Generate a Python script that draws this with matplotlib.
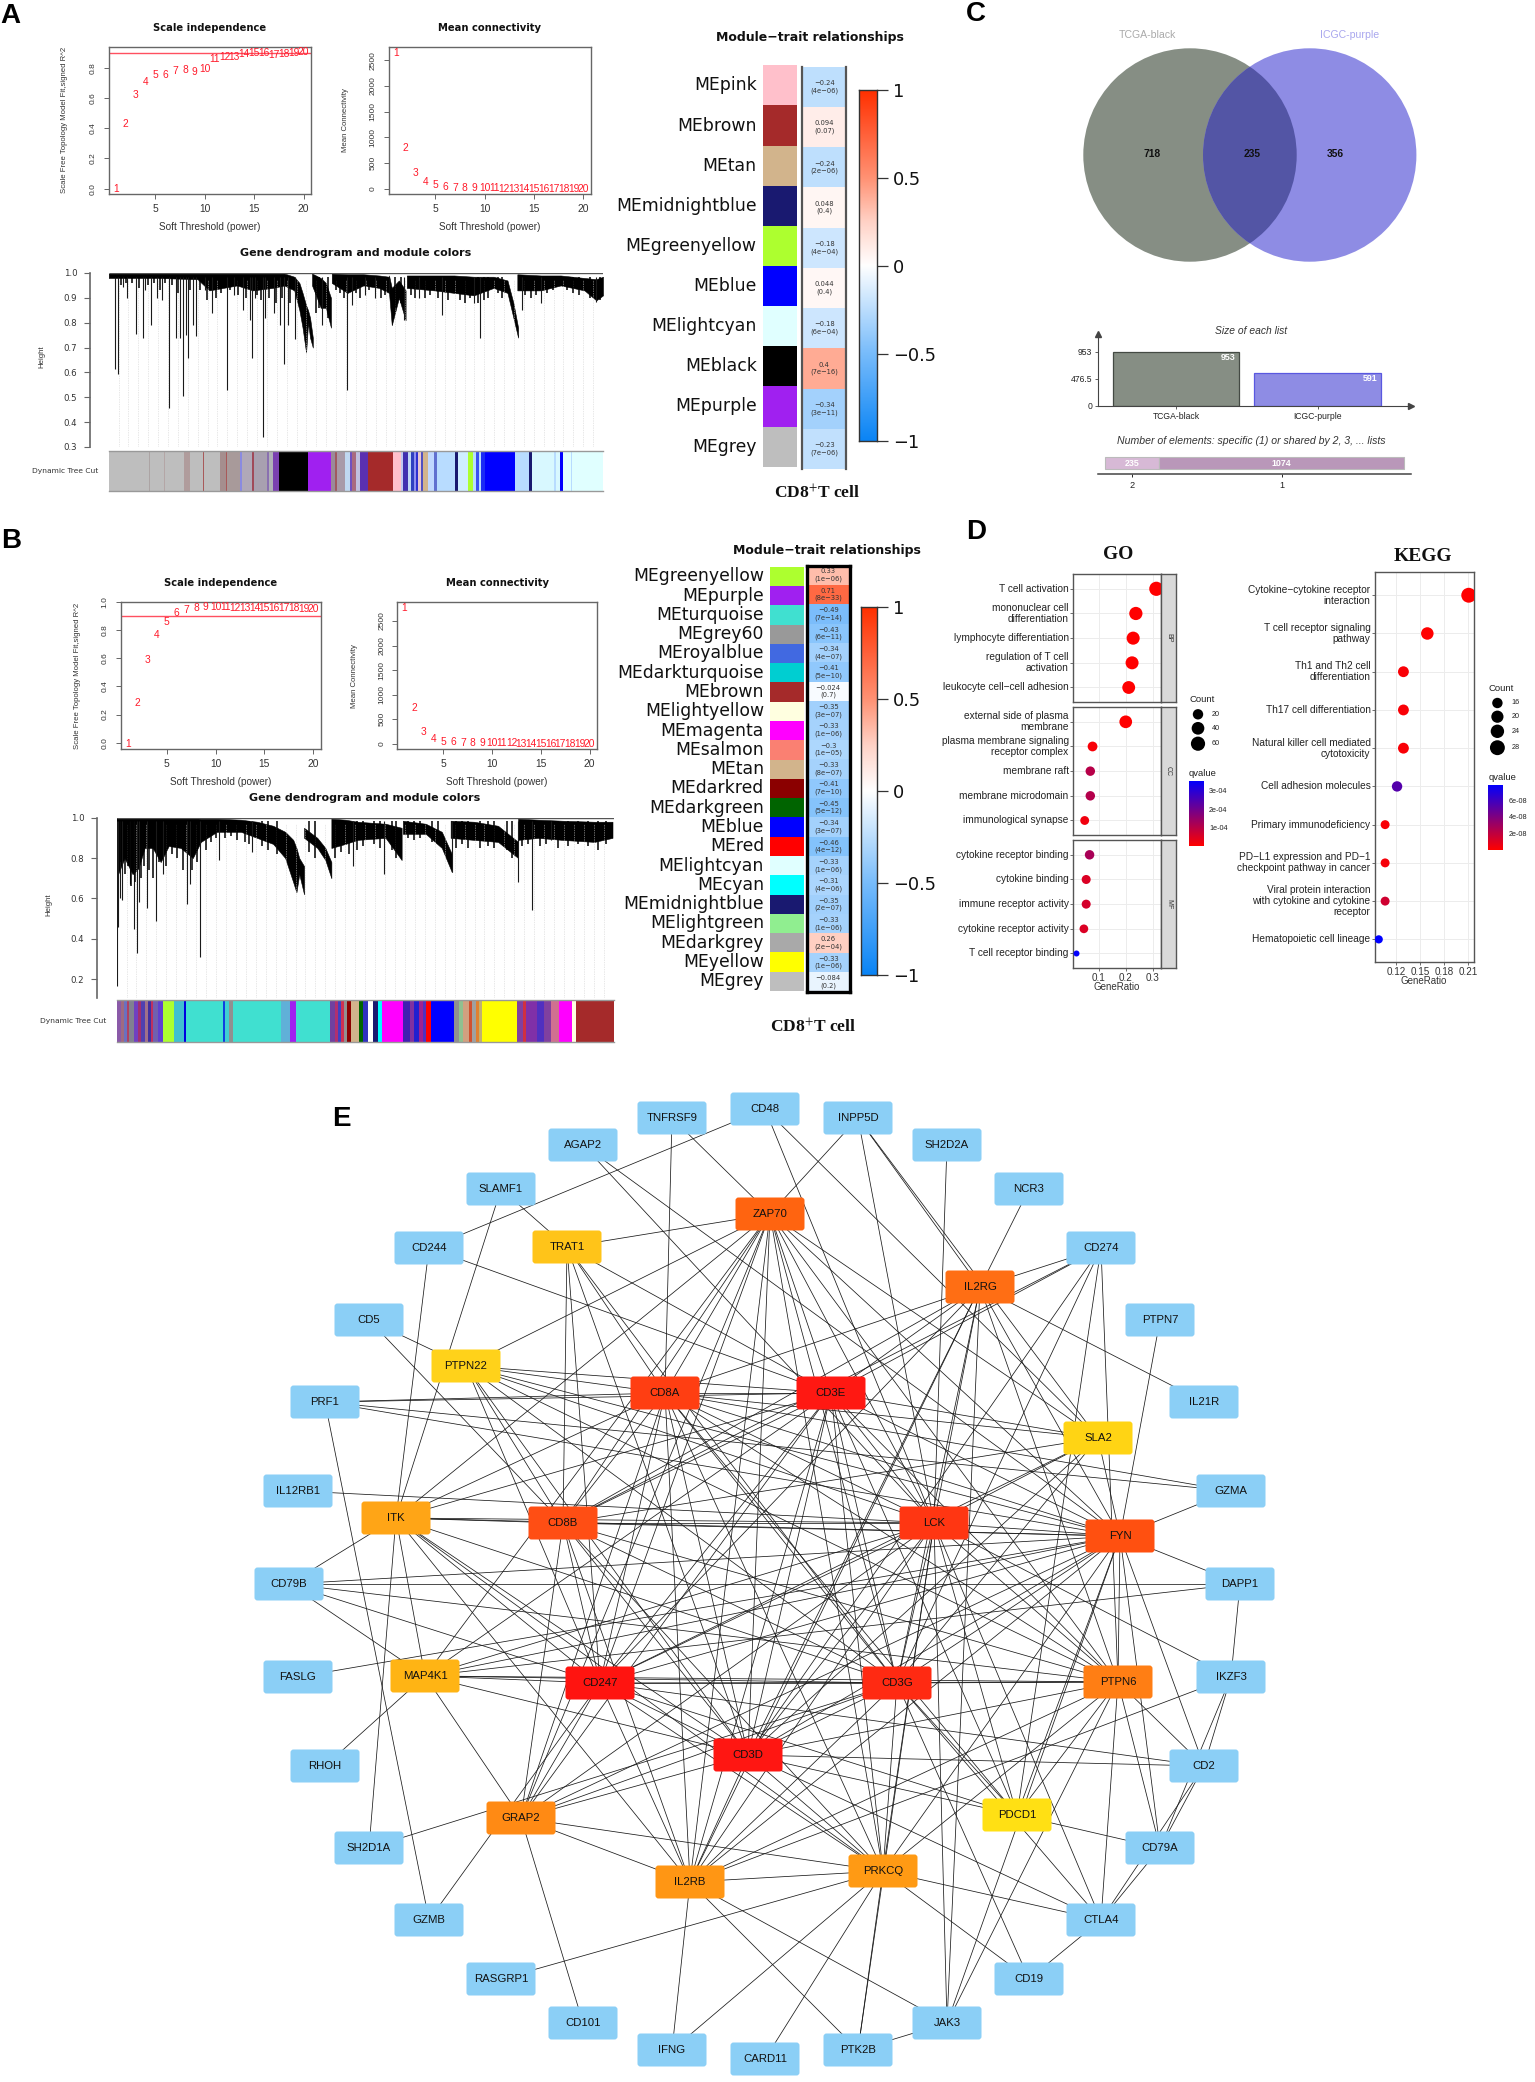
"""
    WGCNA modules, venn diagram, enrichment dot plots and PPI network
"""
import numpy as np
from matplotlib import pyplot as plt
from matplotlib.collections import LineCollection
from matplotlib.colors import LinearSegmentedColormap
from matplotlib.patches import Circle, FancyBboxPatch

WIDTH = 1535
HEIGHT = 2082
SANS = "Liberation Sans"
SERIF = "Liberation Serif"
WIDE = "DejaVu Sans"
AXIS_GREY = "#666666"

# ---- panel A / B soft threshold
POWERS = list(range(1, 21))
A_FIT = [0.0, 0.428, 0.622, 0.706, 0.755, 0.755, 0.777, 0.786, 0.773, 0.79,
         0.857, 0.87, 0.874, 0.892, 0.896, 0.896, 0.885, 0.892, 0.896, 0.903]
A_CONN = [2650, 800, 300, 136, 71, 32, 20, 12, 8, 6, 5, 4, 3, 3, 2, 2, 1, 1, 1, 1]
B_FIT = [-0.007, 0.283, 0.587, 0.763, 0.86, 0.922, 0.945, 0.957, 0.962, 0.962,
         0.962, 0.96, 0.96, 0.96, 0.957, 0.957, 0.957, 0.955, 0.95, 0.95]
B_CONN = [2765, 720, 245, 95, 41, 27, 20, 14, 10, 8, 6, 5, 4, 3, 3, 2, 2, 2, 1, 1]

# ---- dendrograms: clusters as (leaf, top, bottom) outlines
A_CLUSTERS = [
    ([275, 400, 500, 530, 600, 640, 690, 720, 745, 758, 766, 775, 780, 785, 792],
     [.998, .998, .998, .998, .998, .998, .998, .998, .985, .96, .92, .87, .85, .82, .74],
     [.98, .98, .975, .93, .95, .93, .94, .95, .93, .85, .78, .68, .80, .74, .70]),
    ([790, 800, 812, 825, 838], [.998, .99, .98, .96, .90], [.95, .91, .86, .86, .78]),
    ([840, 880, 920, 960, 985], [.998, .995, .995, .99, .985], [.96, .92, .95, .94, .92]),
    ([985, 992, 1010, 1027], [.99, .94, .97, .93], [.92, .79, .90, .81]),
    ([1030, 1100, 1150, 1200, 1250, 1285, 1300, 1312],
     [.99, .99, .99, .985, .985, .97, .88, .78],
     [.94, .93, .92, .91, .94, .92, .82, .74]),
    ([1310, 1370, 1420, 1480, 1510, 1527],
     [.995, .99, .99, .98, .975, .985],
     [.93, .93, .95, .93, .89, .91]),
]
A_SPIKES = [(290, .615), (299, .595), (311, .945), (322, .90), (343, .755), (361, .74),
            (368, .93), (383, .79), (398, .90), (411, .89), (427, .455), (445, .74),
            (456, .74), (462, .505), (470, .75), (476, .66), (488, .79), (495, .745),
            (518, .93), (537, .84), (574, .53), (592, .91), (615, .85), (632, .81),
            (638, .66), (645, .90), (666, .34), (672, .82), (693, .84), (710, .79),
            (720, .635), (728, .79), (746, .735), (815, .79), (878, .53), (890, .87),
            (923, .91), (950, .90), (1024, .81), (1060, .90), (1120, .83), (1200, .88),
            (1215, .74), (1321, .85), (1370, .88), (1510, .885)]
A_JAGS = [(305, .95), (318, .96), (333, .96), (352, .94), (375, .95), (390, .96), (405, .93),
          (418, .96), (436, .95), (450, .92), (482, .93), (505, .93), (525, .89), (548, .90),
          (560, .92), (583, .93), (603, .91), (622, .90), (650, .91), (660, .89), (680, .90),
          (700, .88), (715, .90), (735, .88), (800, .84), (808, .86), (830, .82), (850, .93),
          (862, .92), (872, .90), (902, .92), (912, .90), (935, .93), (965, .90), (975, .91),
          (1000, .86), (1015, .88), (1040, .91), (1050, .90), (1075, .90), (1090, .91),
          (1110, .90), (1135, .89), (1165, .89), (1178, .88), (1190, .90), (1210, .88),
          (1225, .89), (1235, .90), (1262, .92), (1272, .90), (1330, .91), (1345, .90),
          (1358, .91), (1385, .92), (1400, .93), (1435, .93), (1450, .92), (1465, .91),
          (1495, .90), (1520, .89)]
B_CLUSTERS = [
    ([290, 310, 330, 345, 360, 380, 400, 420, 450, 480, 500, 540, 600, 640, 680, 710, 730, 738, 745, 757],
     [.998, .998, .998, .998, .998, .998, .998, .998, .998, .998, .995, .995, .99, .98, .96, .93, .89, .85, .80, .76],
     [.70, .80, .72, .75, .85, .85, .78, .86, .85, .80, .88, .93, .93, .90, .87, .80, .68, .63, .72, .62]),
    ([757, 790, 810, 825], [.95, .90, .85, .78], [.90, .85, .79, .70]),
    ([825, 860, 890, 960, 1000], [.995, .99, .98, .97, .95], [.85, .87, .89, .90, .79]),
    ([1003, 1060, 1100, 1125], [.985, .97, .93, .82], [.92, .92, .85, .73]),
    ([1122, 1180, 1240, 1290], [.985, .98, .96, .88], [.90, .89, .88, .80]),
    ([1290, 1340, 1400, 1480, 1525], [.995, .99, .985, .98, .98], [.89, .90, .89, .88, .90]),
]
B_SPIKES = [(291, .165), (294, .46), (298, .60), (303, .59), (323, .67), (333, .45),
            (340, .33), (347, .58), (365, .55), (389, .49), (407, .72), (465, .57),
            (472, .67), (499, .31), (545, .79), (627, .83), (880, .76), (955, .72),
            (1125, .73), (1290, .68), (1325, .54), (1373, .89)]
B_JAGS = [(300, .78), (312, .72), (318, .76), (327, .66), (337, .68), (352, .70), (358, .76),
          (372, .74), (380, .70), (395, .78), (414, .76), (428, .82), (440, .80), (455, .74),
          (478, .74), (490, .78), (512, .84), (525, .88), (538, .90), (560, .90), (575, .91),
          (590, .89), (610, .88), (620, .87), (652, .86), (668, .84), (690, .82), (770, .83),
          (785, .80), (835, .80), (848, .83), (870, .82), (890, .84), (905, .86), (930, .87),
          (945, .85), (975, .84), (985, .80), (1015, .90), (1030, .89), (1045, .90), (1075, .88),
          (1090, .87), (1135, .85), (1150, .87), (1165, .85), (1195, .85), (1215, .86), (1230, .85),
          (1262, .84), (1275, .80), (1300, .86), (1315, .87), (1345, .86), (1360, .87), (1390, .85),
          (1415, .86), (1440, .87), (1465, .86), (1490, .84), (1510, .87)]

# ---- dynamic tree cut bands: (colour, leaves)
A_BAND = [("#bebebe", 95), ("#aca4a4", 3), ("#bebebe", 33), ("#b4a6a6", 3), ("#bebebe", 45),
          ("#b09c9c", 15), ("#bebebe", 30), ("#a85a5a", 3), ("#bebebe", 37), ("#a58e8e", 15),
          ("#a85a5a", 3), ("#a89a9a", 30), ("#8a8ae0", 5), ("#b0a8b8", 25), ("#a04a5a", 4),
          ("#a8a0b0", 30), ("#8a70b0", 6), ("#b0b0b8", 10), ("#7a40b0", 14), ("#000000", 68),
          ("#a020f0", 54), ("#9a8a9a", 10), ("#a05a60", 5), ("#a89aa8", 20), ("#c0d8f0", 10),
          ("#7050c0", 6), ("#a86a80", 10), ("#c0c0e0", 10), ("#5a30b0", 18), ("#a52a2a", 60),
          ("#ffc0cb", 19), ("#c0c8f0", 5), ("#4030b0", 12), ("#c0d8f5", 6), ("#3040c0", 8),
          ("#9090f0", 4), ("#3030d0", 6), ("#e8c8d0", 5), ("#5050c0", 6), ("#d2b48c", 11),
          ("#c0d8ff", 14), ("#6070d0", 8), ("#b8dcff", 42), ("#191970", 9), ("#cfeeff", 23),
          ("#adff2f", 12), ("#b8dcff", 6), ("#3a50f0", 8), ("#b8dcff", 4), ("#1a2af5", 11),
          ("#0000ff", 70), ("#b8dcff", 34), ("#191970", 8), ("#d8f8ff", 52), ("#b8dcff", 4),
          ("#d8f8ff", 10), ("#0000ff", 8), ("#e0ffff", 17), ("#b8dcff", 4), ("#e0ffff", 73)]
B_BAND = [("#8a5aa8", 10), ("#a06a80", 8), ("#6a70c0", 8), ("#b04060", 6), ("#808090", 12),
          ("#7040c0", 10), ("#a03070", 6), ("#5040b0", 10), ("#a0708a", 8), ("#4030a0", 8),
          ("#c03060", 6), ("#7060b0", 12), ("#6040d0", 11), ("#adff2f", 28), ("#40c0d0", 25),
          ("#0000e0", 5), ("#40e0d0", 92), ("#1040e0", 5), ("#40d0d0", 10), ("#909090", 10),
          ("#40e0d0", 120), ("#60b0d8", 22), ("#a020f0", 16), ("#40e0d0", 84), ("#7040a0", 12),
          ("#b03070", 8), ("#4040c0", 8), ("#d03050", 6), ("#909090", 7), ("#8b0000", 12),
          ("#d2b48c", 20), ("#006400", 8), ("#3030c0", 12), ("#ffffff", 13), ("#191970", 12),
          ("#00ffff", 10), ("#ff00ff", 54), ("#4020b0", 16), ("#8030a0", 10), ("#2020d0", 12),
          ("#a02090", 10), ("#5030c0", 8), ("#ff0000", 14), ("#0000ff", 56), ("#909090", 14),
          ("#90c090", 10), ("#d2a080", 14), ("#d05030", 8), ("#a0a0a0", 8), ("#e08030", 8),
          ("#c0b070", 8), ("#ffff00", 88), ("#8040a0", 14), ("#d03040", 8), ("#8030a8", 26),
          ("#5030c0", 18), ("#8040a0", 18), ("#d07090", 20), ("#ff00ff", 33), ("#ffffe0", 8),
          ("#a52a2a", 95)]

# ---- module trait heatmaps
A_MODULES = ["MEpink", "MEbrown", "MEtan", "MEmidnightblue", "MEgreenyellow", "MEblue",
             "MElightcyan", "MEblack", "MEpurple", "MEgrey"]
A_COLORS = ["#ffc0cb", "#a52a2a", "#d2b48c", "#191970", "#adff2f", "#0000ff", "#e0ffff",
            "#000000", "#a020f0", "#bebebe"]
A_CORR = [-0.24, 0.094, -0.24, 0.048, -0.18, 0.044, -0.18, 0.4, -0.34, -0.23]
A_P = ["4e\u221206", "0.07", "2e\u221206", "0.4", "4e\u221204", "0.4", "6e\u221204",
       "7e\u221216", "3e\u221211", "7e\u221206"]
B_MODULES = ["MEgreenyellow", "MEpurple", "MEturquoise", "MEgrey60", "MEroyalblue",
             "MEdarkturquoise", "MEbrown", "MElightyellow", "MEmagenta", "MEsalmon", "MEtan",
             "MEdarkred", "MEdarkgreen", "MEblue", "MEred", "MElightcyan", "MEcyan",
             "MEmidnightblue", "MElightgreen", "MEdarkgrey", "MEyellow", "MEgrey"]
B_COLORS = ["#adff2f", "#a020f0", "#40e0d0", "#999999", "#4169e1", "#00ced1", "#a52a2a",
            "#ffffe0", "#ff00ff", "#fa8072", "#d2b48c", "#8b0000", "#006400", "#0000ff",
            "#ff0000", "#e0ffff", "#00ffff", "#191970", "#90ee90", "#a9a9a9", "#ffff00",
            "#bebebe"]
B_CORR = [0.33, 0.71, -0.49, -0.43, -0.34, -0.41, -0.024, -0.35, -0.33, -0.3, -0.33, -0.41,
          -0.45, -0.34, -0.46, -0.33, -0.31, -0.35, -0.33, 0.26, -0.33, -0.084]
B_P = ["1e\u221206", "8e\u221233", "7e\u221214", "6e\u221211", "4e\u221207", "5e\u221210",
       "0.7", "3e\u221207", "1e\u221206", "1e\u221205", "8e\u221207", "7e\u221210",
       "5e\u221212", "3e\u221207", "4e\u221212", "1e\u221206", "4e\u221206", "2e\u221207",
       "1e\u221206", "2e\u221204", "1e\u221206", "0.2"]

# ---- panel C
VENN_NAMES = ["TCGA-black", "ICGC-purple"]
VENN_COUNTS = [718, 235, 356]
LIST_SIZES = [953, 591]
SHARED_LABELS = ["2", "1"]
SHARED_COUNTS = [235, 1074]

# ---- panel D
GO_BP = ["T cell activation", "mononuclear cell\ndifferentiation", "lymphocyte differentiation",
         "regulation of T cell\nactivation", "leukocyte cell\u2212cell adhesion"]
GO_BP_RATIO = [0.3136, 0.238, 0.228, 0.224, 0.2116]
GO_BP_COUNT = [62, 47, 45, 44, 42]
GO_BP_Q = [0.0, 0.0, 0.0, 0.0, 0.0]
GO_CC = ["external side of plasma\nmembrane", "plasma membrane signaling\nreceptor complex",
         "membrane raft", "membrane microdomain", "immunological synapse"]
GO_CC_RATIO = [0.2006, 0.078, 0.0697, 0.0697, 0.049]
GO_CC_COUNT = [40, 16, 14, 14, 10]
GO_CC_Q = [0.0, 0.1e-4, 1.0e-4, 1.05e-4, 0.2e-4]
GO_MF = ["cytokine receptor binding", "cytokine binding", "immune receptor activity",
         "cytokine receptor activity", "T cell receptor binding"]
GO_MF_RATIO = [0.067, 0.0545, 0.0545, 0.046, 0.0187]
GO_MF_COUNT = [14, 11, 11, 9, 4]
GO_MF_Q = [1.2e-4, 0.5e-4, 0.6e-4, 0.5e-4, 3.5e-4]
KEGG_TERMS = ["Cytokine\u2212cytokine receptor\ninteraction", "T cell receptor signaling\npathway",
              "Th1 and Th2 cell\ndifferentiation", "Th17 cell differentiation",
              "Natural killer cell mediated\ncytotoxicity", "Cell adhesion molecules",
              "Primary immunodeficiency", "PD\u2212L1 expression and PD\u22121\ncheckpoint pathway in cancer",
              "Viral protein interaction\nwith cytokine and cytokine\nreceptor",
              "Hematopoietic cell lineage"]
KEGG_RATIO = [0.211, 0.159, 0.129, 0.129, 0.129, 0.121, 0.106, 0.106, 0.106, 0.098]
KEGG_COUNT = [28, 21, 17, 17, 17, 16, 14, 14, 14, 13]
KEGG_Q = [0.0, 0.0, 0.2e-8, 0.2e-8, 0.2e-8, 5.3e-8, 0.2e-8, 0.3e-8, 1.5e-8, 7.9e-8]

# ---- panel E
NODE_NAMES = ["CD48", "TNFRSF9", "INPP5D", "AGAP2", "SH2D2A", "SLAMF1", "NCR3", "CD244", "CD274",
              "CD5", "PTPN7", "PRF1", "IL21R", "IL12RB1", "GZMA", "CD79B", "DAPP1", "FASLG",
              "IKZF3", "RHOH", "CD2", "SH2D1A", "CD79A", "GZMB", "CTLA4", "RASGRP1", "CD19",
              "CD101", "JAK3", "IFNG", "PTK2B", "CARD11",
              "ZAP70", "TRAT1", "IL2RG", "PTPN22", "CD8A", "CD3E", "SLA2", "ITK", "CD8B", "LCK",
              "FYN", "MAP4K1", "CD247", "CD3G", "PTPN6", "CD3D", "GRAP2", "PDCD1", "IL2RB", "PRKCQ"]
NODE_XY = [(765, 1109), (672, 1118), (858, 1118), (583, 1145), (947, 1145), (501, 1189), (1029, 1189),
           (429, 1248), (1101, 1248), (369, 1320), (1160, 1320), (325, 1402), (1204, 1402),
           (298, 1491), (1231, 1491), (289, 1584), (1240, 1584), (298, 1677), (1231, 1677),
           (325, 1766), (1204, 1766), (369, 1848), (1160, 1848), (429, 1920), (1101, 1920),
           (501, 1979), (1029, 1979), (583, 2023), (947, 2023), (672, 2050), (858, 2050), (765, 2059),
           (770, 1214), (567, 1247), (980, 1287), (466, 1366), (665, 1393), (831, 1393), (1098, 1438),
           (396, 1518), (563, 1523), (934, 1523), (1120, 1536), (425, 1676), (600, 1683), (897, 1683),
           (1118, 1682), (748, 1755), (521, 1818), (1017, 1815), (690, 1882), (883, 1871)]
NODE_COLORS = {"ZAP70": "#ff6410", "TRAT1": "#ffc419", "IL2RG": "#ff6e14", "PTPN22": "#ffd21a",
               "CD8A": "#ff3e12", "CD3E": "#ff1812", "SLA2": "#ffd414", "ITK": "#ffa516",
               "CD8B": "#ff4e14", "LCK": "#ff3612", "FYN": "#ff5010", "MAP4K1": "#ffb414",
               "CD247": "#ff1410", "CD3G": "#ff2a12", "PTPN6": "#ff7e14", "CD3D": "#ff1612",
               "GRAP2": "#ff8a14", "PDCD1": "#ffe014", "IL2RB": "#ff9614", "PRKCQ": "#ff9a14"}
NODE_BLUE = "#8bcff6"
NEIGHBOURS = {
    "CD48": "CD244 LCK SLA2",
    "TNFRSF9": "ZAP70 CD8A",
    "INPP5D": "ZAP70 LCK IL2RG SLA2",
    "AGAP2": "LCK FYN",
    "SH2D2A": "LCK",
    "SLAMF1": "TRAT1 ITK",
    "NCR3": "IL2RG",
    "CD244": "ITK CD3E",
    "CD274": "IL2RG CD8B CD3G CD3E PDCD1 CD3D PTPN6",
    "CD5": "PTPN22 CD8B",
    "PTPN7": "FYN",
    "PRF1": "CD8A CD3E FYN GZMB",
    "IL21R": "IL2RG",
    "IL12RB1": "LCK",
    "GZMA": "FYN CD8A PRF1",
    "CD79B": "DAPP1 FYN PTPN6 CD247 MAP4K1 ITK",
    "DAPP1": "MAP4K1 IKZF3 FYN",
    "FASLG": "FYN",
    "IKZF3": "IL2RB CD79A LCK CD2",
    "RHOH": "MAP4K1",
    "CD2": "CD3D CD247 PTPN6 CD79A CTLA4 FYN",
    "SH2D1A": "ITK CD3G",
    "CD79A": "PDCD1 PTPN6 CTLA4 FYN",
    "GZMB": "CD247",
    "CTLA4": "CD19 PRKCQ CD3D CD3G PTPN6 LCK",
    "RASGRP1": "PRKCQ",
    "CD19": "CD3G PRKCQ",
    "CD101": "GRAP2",
    "JAK3": "PTK2B IL2RG IL2RB LCK FYN PTPN6",
    "IFNG": "IL2RB PRKCQ",
    "PTK2B": "PRKCQ IL2RB LCK",
    "CARD11": "PRKCQ",
    "ZAP70": "CD3D CD3E CD3G CD247 CD8A CD8B LCK FYN PTPN6 TRAT1 PTPN22 ITK MAP4K1 GRAP2 IL2RB PRKCQ SLA2",
    "TRAT1": "CD3D CD3E CD3G CD247 CD8A CD8B",
    "IL2RG": "CD3D CD3E CD3G CD247 CD8A CD8B LCK FYN PTPN6 IL2RB",
    "PTPN22": "CD3D CD3E CD3G CD247 CD8A CD8B LCK FYN PTPN6",
    "CD8A": "CD3D CD3E CD3G CD247 CD8B LCK FYN PTPN6 ITK PRKCQ SLA2 IL2RB GRAP2 PDCD1",
    "CD3E": "CD3D CD3G CD247 CD8B LCK FYN PTPN6 ITK SLA2 GRAP2 IL2RB PRKCQ MAP4K1 PDCD1",
    "SLA2": "LCK FYN CD3D CD247 CD3G CD8B",
    "ITK": "CD8B LCK FYN CD3D CD3G CD247 PRKCQ IL2RB MAP4K1",
    "CD8B": "LCK FYN CD3D CD3G CD247 PTPN6 GRAP2 IL2RB PRKCQ",
    "LCK": "FYN CD3D CD3G CD247 PTPN6 MAP4K1 GRAP2 IL2RB PRKCQ PDCD1",
    "FYN": "CD3D CD3G CD247 PTPN6 MAP4K1 GRAP2 IL2RB PRKCQ PDCD1",
    "CD247": "CD3D CD3G PTPN6 MAP4K1 GRAP2 IL2RB PRKCQ PDCD1",
    "CD3G": "CD3D PTPN6 MAP4K1 GRAP2 IL2RB PRKCQ PDCD1",
    "PTPN6": "CD3D MAP4K1 PDCD1 PRKCQ IL2RB",
    "CD3D": "MAP4K1 GRAP2 IL2RB PRKCQ PDCD1",
    "GRAP2": "PRKCQ IL2RB MAP4K1",
    "IL2RB": "PRKCQ",
}

TRAIT_CMAP = LinearSegmentedColormap.from_list(
    "trait", [(0, "#0a84f5"), (0.25, "#78bcfb"), (0.5, "#ffffff"), (0.625, "#ffd2c6"),
              (0.75, "#ff9274"), (1, "#ff3000")])
QVALUE_CMAP = LinearSegmentedColormap.from_list("qvalue", ["#ff0000", "#0000ff"])


def panel_axes(fig, x0, y0, x1, y1):
    # axes from pixel box, y measured from the top of the picture
    return fig.add_axes([x0 / WIDTH, 1 - y1 / HEIGHT, (x1 - x0) / WIDTH, (y1 - y0) / HEIGHT])


def draw_power_plot(fig, box, origin, values, ylim, yticks, line=None):
    ax = panel_axes(fig, *box)
    x5, x20 = origin
    per_unit = (x20 - x5) / 15
    ax.set_xlim(5 + (box[0] - x5) / per_unit, 5 + (box[2] - x5) / per_unit)
    ax.set_ylim(*ylim)
    for power, value in zip(POWERS, values):
        ax.text(power, value, str(power), color="#ff1a2a", fontsize=7.4, family=SANS,
                ha="center", va="center", clip_on=True)
    if line is not None:
        ax.axhline(line, color="#ff5060", lw=1)
    ax.set_xticks([5, 10, 15, 20])
    ax.set_yticks(yticks)
    ax.set_yticklabels([str(t) for t in yticks], rotation=90, va="center")
    ax.tick_params(axis="x", length=3.5, width=0.7, color=AXIS_GREY, labelsize=7.4, pad=3.4,
                   labelcolor="#333333")
    ax.tick_params(axis="y", length=3.5, width=0.7, color=AXIS_GREY, labelsize=6, pad=5,
                   labelcolor="#333333")
    for label in ax.get_xticklabels() + ax.get_yticklabels():
        label.set_family(SANS)
    for spine in ax.spines.values():
        spine.set_color(AXIS_GREY)
        spine.set_linewidth(1)
    return ax


def draw_dendrogram(fig, box, leaves, clusters, spikes, jags, ylim, yticks, n_guides, offset):
    ax = panel_axes(fig, *box)
    ax.set_xlim(*leaves)
    ax.set_ylim(*ylim)
    guides = np.linspace(leaves[0] + 25, leaves[1], n_guides)
    ax.vlines(guides, ylim[0] + 0.005, 0.97, colors="#d0d0d0", lw=0.5, linestyles=(0, (1, 1.5)))
    for leaf, top, bottom in clusters:
        ax.fill_between(leaf, bottom, top, color="black", lw=0.4)
    ax.vlines([s[0] for s in spikes], [s[1] for s in spikes], 0.985, colors="#1a1a1a", lw=0.8)
    ax.vlines([s[0] for s in jags], [s[1] for s in jags], 0.985, colors="black", lw=1.1)
    ax.hlines(1.0, leaves[0], leaves[1], colors="#555555", lw=1.0)
    ax.set_xticks([])
    ax.set_yticks(yticks)
    ax.set_yticklabels(["%.1f" % t for t in yticks], rotation=90, va="center")
    ax.tick_params(axis="y", length=4, width=0.8, color=AXIS_GREY, labelsize=6.2, pad=5,
                   labelcolor="#333333")
    for label in ax.get_yticklabels():
        label.set_family(SANS)
    for name in ["top", "right", "bottom"]:
        ax.spines[name].set_visible(False)
    ax.spines["left"].set_position(("outward", offset * 0.72))
    ax.spines["left"].set_color(AXIS_GREY)
    ax.spines["left"].set_linewidth(1.2)
    ax.patch.set_alpha(0)


def draw_band(fig, box, band):
    ax = panel_axes(fig, *box)
    widths = [w for _, w in band]
    lefts = np.cumsum([0] + widths[:-1])
    ax.barh(0, widths, left=lefts, height=1, color=[c for c, _ in band], linewidth=0)
    ax.set_xlim(0, sum(widths))
    ax.set_ylim(-0.5, 0.5)
    ax.set_xticks([])
    ax.set_yticks([])
    for spine in ax.spines.values():
        spine.set_visible(False)
    ax.plot([0, sum(widths)], [0.5, 0.5], color="#999999", lw=1, clip_on=False)
    ax.plot([0, sum(widths)], [-0.5, -0.5], color="#999999", lw=1, clip_on=False)


def draw_trait_table(fig, page, modules, colors, corr, pvals, label_x, color_box, heat_box, bar_box, framed):
    n = len(modules)
    ax_col = panel_axes(fig, *color_box)
    ax_col.barh(range(n), 1, height=1, left=0, color=colors, linewidth=0)
    ax_col.set_xlim(0, 1)
    ax_col.set_ylim(n - 0.5, -0.5)
    ax_col.axis("off")
    row_px = (color_box[3] - color_box[1]) / n
    for ii, name in enumerate(modules):
        page.text(label_x, color_box[1] + (ii + 0.5) * row_px, name, ha="right", va="center",
                  family=WIDE, fontsize=12.4, color="#111111")

    ax_heat = panel_axes(fig, *heat_box)
    ax_heat.pcolormesh(np.array(corr)[:, None], cmap=TRAIT_CMAP, vmin=-1, vmax=1)
    ax_heat.set_ylim(n, 0)
    ax_heat.set_xticks([])
    ax_heat.set_yticks([])
    shift = 3.7 / ((heat_box[3] - heat_box[1]) / n)
    for ii, (value, pval) in enumerate(zip(corr, pvals)):
        ax_heat.text(0.5, ii + 0.5 - shift, str(value).replace("-", "\u2212"), ha="center", va="center",
                     family=WIDE, fontsize=4.9, color="#333333")
        ax_heat.text(0.5, ii + 0.5 + shift, "(%s)" % pval, ha="center", va="center",
                     family=WIDE, fontsize=4.9, color="#333333")
    for name, spine in ax_heat.spines.items():
        if framed:
            spine.set_color("black")
            spine.set_linewidth(2.4)
        else:
            spine.set_color("#555555")
            spine.set_linewidth(1.6)
            spine.set_visible(name in ["left", "right"])

    ax_bar = panel_axes(fig, *bar_box)
    ax_bar.imshow(np.linspace(1, -1, 256)[:, None], cmap=TRAIT_CMAP, vmin=-1, vmax=1,
                  aspect="auto", extent=[0, 1, -1, 1])
    ax_bar.set_xticks([])
    ax_bar.yaxis.tick_right()
    ax_bar.set_yticks([-1, -0.5, 0, 0.5, 1])
    ax_bar.set_yticklabels(["\u22121", "\u22120.5", "0", "0.5", "1"], family=WIDE, fontsize=12.8)
    ax_bar.tick_params(axis="y", length=8, width=0.9, pad=4, color="#333333", labelcolor="#111111")
    for spine in ax_bar.spines.values():
        spine.set_color("#333333")
        spine.set_linewidth(1)


def count_to_size(counts, count_scale, diam_scale):
    diam = np.interp(counts, count_scale, diam_scale)
    return (diam * 0.72) ** 2


def draw_dots(fig, page, box, xlim, xticks, ticklabels, terms, ratio, counts, qvals, qmax, count_scale,
              diam_scale, label_x, strip=None, strip_x=None):
    ax = panel_axes(fig, *box)
    n = len(terms)
    ax.set_xlim(*xlim)
    ax.set_ylim(n - 0.4, -0.6)
    ax.grid(True, color="#ececec", lw=0.7)
    ax.set_axisbelow(True)
    ax.scatter(ratio, range(n), s=count_to_size(counts, count_scale, diam_scale), c=qvals,
               cmap=QVALUE_CMAP, vmin=0, vmax=qmax, linewidths=0, clip_on=True, zorder=3)
    ax.set_yticks(range(n))
    ax.set_yticklabels([])
    ax.set_xticks(xticks)
    if ticklabels:
        ax.set_xticklabels(ticklabels, family=SANS, fontsize=7.1, color="#333333")
    else:
        ax.set_xticklabels([])
    ax.tick_params(length=2, width=0.6, color="#555555", pad=1.2)
    if not ticklabels:
        ax.tick_params(axis="x", length=0)
    for spine in ax.spines.values():
        spine.set_color("#555555")
        spine.set_linewidth(1)
    row_px = (box[3] - box[1]) / (n + 0.2)
    for ii, term in enumerate(terms):
        page.text(label_x, box[1] + (ii + 0.6) * row_px, term, ha="right", va="center",
                  family=SANS, fontsize=7.3, color="#222222", linespacing=1.12)
    if strip is not None:
        ax_strip = panel_axes(fig, box[2], box[1], strip_x, box[3])
        ax_strip.set_facecolor("#d9d9d9")
        ax_strip.set_xticks([])
        ax_strip.set_yticks([])
        for spine in ax_strip.spines.values():
            spine.set_color("#555555")
            spine.set_linewidth(1)
        ax_strip.text(0.5, 0.5, strip, rotation=-90, ha="center", va="center", family=SANS,
                      fontsize=5, color="#333333", transform=ax_strip.transAxes)


def draw_dot_legend(fig, page, x, title_y, ys, counts, q_title_y, q_box, qmax, qticks, diams):
    page.text(x, title_y, "Count", ha="left", va="center", family=SANS, fontsize=6.8, color="#222222")
    page.scatter([x + 9] * len(ys), ys, s=[(d * 0.72) ** 2 for d in diams], c="black", linewidths=0, zorder=3)
    for y, count in zip(ys, counts):
        page.text(x + 23, y, str(count), ha="left", va="center", family=SANS, fontsize=5.2, color="#222222")
    page.text(x, q_title_y, "qvalue", ha="left", va="center", family=SANS, fontsize=6.8, color="#222222")
    ax = panel_axes(fig, *q_box)
    ax.imshow(np.linspace(qmax, 0, 128)[:, None], cmap=QVALUE_CMAP, vmin=0, vmax=qmax, aspect="auto",
              extent=[0, 1, 0, qmax])
    ax.set_xticks([])
    ax.yaxis.tick_right()
    ax.set_yticks(qticks)
    ax.set_yticklabels(["%.0e" % q for q in qticks], family=SANS, fontsize=5.2, color="#222222")
    ax.tick_params(axis="y", length=0, pad=4)
    for spine in ax.spines.values():
        spine.set_visible(False)


def draw_venn(fig, page):
    left = Circle((1190, 155), 106.7, facecolor="#868e84", edgecolor="none", zorder=2)
    right = Circle((1309.7, 155), 106.7, facecolor="#8e8ce4", edgecolor="none", zorder=2)
    page.add_patch(left)
    page.add_patch(right)
    both = Circle((1309.7, 155), 106.7, facecolor="#5355a5", edgecolor="none", zorder=3)
    page.add_patch(both)
    both.set_clip_path(left)
    for x, count in zip([1152, 1251.7, 1335.7], VENN_COUNTS):
        page.text(x, 154, str(count), ha="center", va="center", family=SANS, fontsize=7.4,
                  fontweight="bold", color="#111111", zorder=4)
    page.text(1147.7, 35, VENN_NAMES[0], ha="center", va="center", family=SANS, fontsize=7.6, color="#aaaaaa")
    page.text(1350, 35, VENN_NAMES[1], ha="center", va="center", family=SANS, fontsize=7.6, color="#a9a7ee")

    # list sizes
    ax = panel_axes(fig, 1097.7, 334, 1410.7, 406)
    ax.bar([0, 1], LIST_SIZES, width=0.893, color=["#868e84", "#8e8ce4"], edgecolor=["#444a44", "#5a58e0"],
           linewidth=0.9)
    ax.set_xlim(-0.5526, 1.656)
    ax.set_ylim(0, 953 * 72 / 54)
    ax.set_xticks([0, 1])
    ax.set_xticklabels(VENN_NAMES, family=SANS, fontsize=6.2, color="#222222")
    ax.set_yticks([0, 476.5, 953])
    ax.set_yticklabels(["0", "476.5", "953"], family=SANS, fontsize=6.2, color="#222222")
    ax.tick_params(length=2.5, width=0.6, color="#444444", pad=1.5)
    ax.spines["top"].set_visible(False)
    ax.spines["right"].set_visible(False)
    ax.spines["left"].set_color("#444444")
    ax.spines["bottom"].set_color("#444444")
    ax.plot(1, 0, ">", color="#444444", ms=5, transform=ax.transAxes, clip_on=False)
    ax.plot(0, 1, "^", color="#444444", ms=5, transform=ax.transAxes, clip_on=False)
    for pos, size in zip([0, 1], LIST_SIZES):
        ax.text(pos + 0.42, size - 105, str(size), ha="right", va="center", family=SANS, fontsize=6.4,
                color="white", fontweight="bold")
    page.text(1251, 331, "Size of each list", ha="center", va="center", family=SANS, fontsize=7.4,
              style="italic", color="#333333")

    # shared elements
    page.text(1251, 440.7, "Number of elements: specific (1) or shared by 2, 3, ... lists", ha="center",
              va="center", family=SANS, fontsize=7.6, style="italic", color="#333333")
    ax = panel_axes(fig, 1097.7, 452, 1411, 474.3)
    lefts = [0, SHARED_COUNTS[0]]
    ax.barh(0, SHARED_COUNTS, left=lefts, height=0.68, color=["#d7b9d6", "#b997b9"], edgecolor="#bbbbbb",
            linewidth=0.8)
    ax.set_xlim(-33, 1309 + 29)
    ax.set_ylim(-0.62, 0.62)
    centers = [c / 2 + l for c, l in zip(SHARED_COUNTS, lefts)]
    ax.set_xticks(centers)
    ax.set_xticklabels(SHARED_LABELS, family=SANS, fontsize=6.6, color="#222222")
    ax.set_yticks([])
    ax.tick_params(length=2, width=0.6, pad=3)
    for name in ["top", "left", "right"]:
        ax.spines[name].set_visible(False)
    ax.spines["bottom"].set_color("#444444")
    ax.spines["bottom"].set_linewidth(1.1)
    for center, count in zip(centers, SHARED_COUNTS):
        ax.text(center, 0, str(count), ha="center", va="center", family=SANS, fontsize=6.4, color="white",
                fontweight="bold")


def draw_network(page):
    where = dict(zip(NODE_NAMES, NODE_XY))
    segments = []
    for name, others in NEIGHBOURS.items():
        for other in others.split():
            segments.append([where[name], where[other]])
    page.add_collection(LineCollection(segments, colors="#1a1a1a", linewidths=0.55, zorder=2))
    for name, (x, y) in zip(NODE_NAMES, NODE_XY):
        box = FancyBboxPatch((x - 32.5, y - 14.5), 65, 29, boxstyle="round,pad=2,rounding_size=3",
                             facecolor=NODE_COLORS.get(name, NODE_BLUE), edgecolor="none", zorder=3)
        page.add_patch(box)
        page.text(x, y, name, ha="center", va="center", family=SANS, fontsize=8.2, color="#111111", zorder=4)


def main():
    fig = plt.figure(figsize=(WIDTH / 100, HEIGHT / 100), dpi=100, facecolor="white")
    page = fig.add_axes([0, 0, 1, 1])
    page.set_xlim(0, WIDTH)
    page.set_ylim(HEIGHT, 0)
    page.axis("off")

    for letter, x, y in [("A", 10, 16), ("B", 11, 541), ("C", 976, 14), ("D", 976, 532), ("E", 341, 1119)]:
        page.text(x, y, letter, ha="center", va="center", family=SANS, fontsize=20, fontweight="bold", color="black")

    # panel A
    draw_power_plot(fig, (108.7, 47, 311, 194), (155.3, 303.6), A_FIT, (-0.035, 0.938),
                    [0.0, 0.2, 0.4, 0.6, 0.8], line=0.9)
    draw_power_plot(fig, (388.5, 47, 591, 194), (435.2, 583.4), A_CONN, (-103, 2760),
                    [0, 500, 1000, 1500, 2000, 2500])
    draw_dendrogram(fig, (108.7, 273, 603, 447), (275, 1527), A_CLUSTERS, A_SPIKES, A_JAGS, (0.3, 1.0),
                    [0.3, 0.4, 0.5, 0.6, 0.7, 0.8, 0.9, 1.0], 50, 19)
    draw_band(fig, (108.7, 451, 603, 491), A_BAND)
    draw_trait_table(fig, page, A_MODULES, A_COLORS, A_CORR, A_P, 756.7, (762.7, 65.3, 797, 466.7),
                     (802.3, 66.7, 846, 469), (858.7, 90.3, 876.7, 441.3), False)

    # panel B
    draw_power_plot(fig, (120.5, 602, 320.5, 749), (166.7, 313.3), B_FIT, (-0.045, 1.0),
                    [0.0, 0.2, 0.4, 0.6, 0.8, 1.0], line=0.9)
    draw_power_plot(fig, (397.2, 602, 597.2, 749), (443.4, 589.6), B_CONN, (-108, 2887),
                    [0, 500, 1000, 1500, 2000, 2500])
    draw_dendrogram(fig, (116.5, 817.7, 613.7, 998), (290, 1528), B_CLUSTERS, B_SPIKES, B_JAGS, (0.106, 1.0),
                    [0.2, 0.4, 0.6, 0.8, 1.0], 50, 19.7)
    draw_band(fig, (116.5, 1000, 613.7, 1041.7), B_BAND)
    draw_trait_table(fig, page, B_MODULES, B_COLORS, B_CORR, B_P, 764, (769.7, 566.7, 803.7, 991),
                     (807, 565.5, 849.5, 991.5), (861.3, 607, 876.7, 974.7), True)

    # texts of panels A and B
    for cx, cy, text, size in [(210, 28, "Scale independence", 7.2), (489.3, 28, "Mean connectivity", 7.2),
                               (355.7, 253, "Gene dendrogram and module colors", 8.0),
                               (810, 38, "Module\u2212trait relationships", 9.0),
                               (220.5, 583, "Scale independence", 7.2), (497, 583, "Mean connectivity", 7.2),
                               (364.7, 797.7, "Gene dendrogram and module colors", 8.0),
                               (827, 550.7, "Module\u2212trait relationships", 9.0)]:
        page.text(cx, cy, text, ha="center", va="center", family=WIDE, fontsize=size, fontweight="bold", color="#111111")
    for cx, cy in [(210, 226.7), (489.3, 226.7), (220.5, 782), (497, 782)]:
        page.text(cx, cy, "Soft Threshold (power)", ha="center", va="center", family=SANS, fontsize=7.2, color="#333333")
    for cx, cy, text in [(65, 120.3, "Scale Free Topology Model Fit,signed R^2"), (345.5, 120, "Mean Connectivity"),
                         (77.5, 675.7, "Scale Free Topology Model Fit,signed R^2"), (354, 675.7, "Mean Connectivity"),
                         (41.5, 357, "Height"), (49, 904.7, "Height")]:
        page.text(cx, cy, text, ha="center", va="center", rotation=90, family=SANS, fontsize=5.6, color="#333333")
    for cx, cy in [(65.6, 471), (73.5, 1020.7)]:
        page.text(cx, cy, "Dynamic Tree Cut", ha="center", va="center", family=WIDE, fontsize=5.4, color="#333333")
    for cx, cy in [(816.7, 493), (813, 1026.7)]:
        page.text(cx, cy, "CD8$^{+}$T cell", ha="center", va="center", family=SERIF, fontsize=12.5,
                  fontweight="bold", color="#111111", math_fontfamily="stix")

    # panel C
    draw_venn(fig, page)

    # panel D
    go_scale = ([4, 9, 20, 40, 60], [6, 8.7, 10.4, 12.7, 14.2])
    kegg_scale = ([13, 16, 20, 24, 28], [8.2, 10.4, 12.2, 13.4, 14.9])
    go_xlim = (0.0058, 0.3316)
    draw_dots(fig, page, (1073, 574, 1161.2, 702.3), go_xlim, [0.1, 0.2, 0.3], None, GO_BP, GO_BP_RATIO,
              GO_BP_COUNT, GO_BP_Q, 3.54e-4, *go_scale, 1068.7, "BP", 1175.7)
    draw_dots(fig, page, (1073, 707, 1161.2, 835.3), go_xlim, [0.1, 0.2, 0.3], None, GO_CC, GO_CC_RATIO,
              GO_CC_COUNT, GO_CC_Q, 3.54e-4, *go_scale, 1068.7, "CC", 1175.7)
    draw_dots(fig, page, (1073, 840, 1161.2, 968.3), go_xlim, [0.1, 0.2, 0.3], ["0.1", "0.2", "0.3"], GO_MF,
              GO_MF_RATIO, GO_MF_COUNT, GO_MF_Q, 3.54e-4, *go_scale, 1068.7, "MF", 1175.7)
    draw_dots(fig, page, (1374.6, 572.3, 1474.3, 962.3), (0.0928, 0.218), [0.12, 0.15, 0.18, 0.21],
              ["0.12", "0.15", "0.18", "0.21"], KEGG_TERMS, KEGG_RATIO, KEGG_COUNT, KEGG_Q, 7.9e-8, *kegg_scale, 1370.5)
    page.text(1117, 987, "GeneRatio", ha="center", va="center", family=SANS, fontsize=7, color="#333333")
    page.text(1424, 981, "GeneRatio", ha="center", va="center", family=SANS, fontsize=7, color="#333333")
    page.text(1118.3, 554.7, "GO", ha="center", va="center", family=SERIF, fontsize=14, fontweight="bold", color="#111111")
    page.text(1422.4, 556.7, "KEGG", ha="center", va="center", family=SERIF, fontsize=14, fontweight="bold", color="#111111")
    draw_dot_legend(fig, page, 1189, 700, [714.3, 728.3, 743.7], [20, 40, 60], 773, (1189.2, 780.7, 1203.4, 846.3),
                    3.54e-4, [1e-4, 2e-4, 3e-4], [10.4, 12.7, 14.2])
    draw_dot_legend(fig, page, 1488.4, 688.7, [703, 716.7, 731.3, 747.7], [16, 20, 24, 28], 777,
                    (1488.4, 784.7, 1503, 850), 7.9e-8, [2e-8, 4e-8, 6e-8], [10.4, 12.2, 13.4, 14.9])

    # panel E
    draw_network(page)

    page.set_xlim(0, WIDTH)
    page.set_ylim(HEIGHT, 0)
    fig.savefig("out.png", dpi=100)
    plt.close(fig)


if __name__ == "__main__":
    main()
